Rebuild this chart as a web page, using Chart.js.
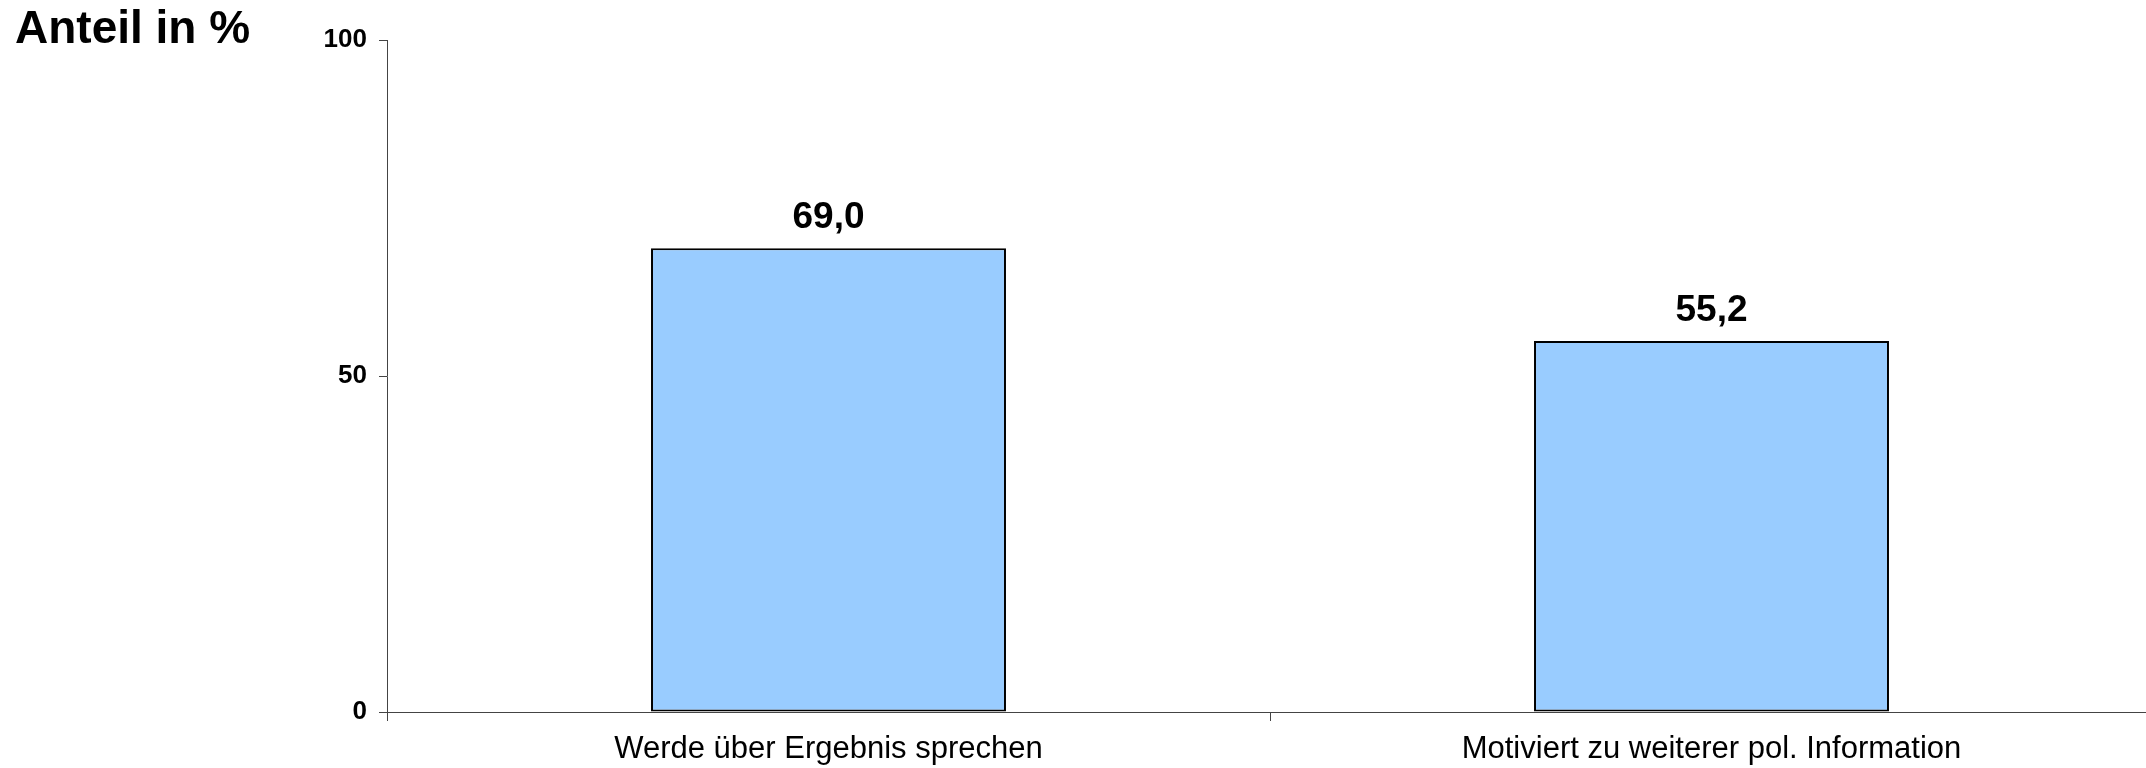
<!DOCTYPE html>
<html>
<head>
<meta charset="utf-8">
<script src="https://cdn.jsdelivr.net/npm/chart.js@4/dist/chart.umd.min.js"></script>
<style>
    html, body { margin: 0; padding: 0; background: #fff; }
</style>
</head>
<body>
<canvas id="chart" width="2146" height="768"></canvas>
<script>
const categories = ['Werde über Ergebnis sprechen', 'Motiviert zu weiterer pol. Information'];
const shares = [69.0, 55.2];
const yTicks = [0, 50, 100];
const yTitle = 'Anteil in %';

const fontFamily = '"Liberation Sans", Arial, Helvetica, sans-serif';

// the original x axis runs a few px past the right edge of the picture
const axisOverhang = {
    id: 'axisOverhang',
    afterLayout(chart) {
        const x = chart.scales.x;
        x.right = chart.width + 7;
        x.width = x.right - x.left;
        x.configure();
    },
};

// axis title in the top left corner
const titlePlugin = {
    id: 'cornerTitle',
    afterDraw(chart) {
        const ctx = chart.ctx;
        ctx.save();
        ctx.font = `bold 46px ${fontFamily}`;
        ctx.fillStyle = '#000';
        ctx.textAlign = 'left';
        ctx.textBaseline = 'alphabetic';
        ctx.fillText(yTitle, 15, 43);
        ctx.restore();
    },
};

// value labels above bars, german decimal comma
const valuePlugin = {
    id: 'barValues',
    afterDatasetsDraw(chart) {
        const ctx = chart.ctx;
        const meta = chart.getDatasetMeta(0);
        ctx.save();
        ctx.font = `bold 37px ${fontFamily}`;
        ctx.fillStyle = '#000';
        ctx.textAlign = 'center';
        ctx.textBaseline = 'alphabetic';
        meta.data.forEach((bar, i) => {
            const text = shares[i].toFixed(1).replace('.', ',');
            ctx.fillText(text, bar.x, bar.y - 20);
        });
        ctx.restore();
    },
};

new Chart(document.getElementById('chart'), {
    type: 'bar',
    data: {
        labels: categories,
        datasets: [
            {
                data: shares,
                backgroundColor: '#99ccff',
                borderColor: '#000',
                borderWidth: 2,
                borderSkipped: false,
                categoryPercentage: 1,
                barPercentage: 0.402,
            },
        ],
    },
    options: {
        responsive: false,
        animation: false,
        devicePixelRatio: 1,
        layout: { padding: { top: 40, right: 0, left: 0, bottom: 0 } },
        scales: {
            x: {
                grid: {
                    display: true,
                    offset: true,
                    drawOnChartArea: false,
                    drawTicks: true,
                    tickLength: 9,
                    color: '#444',
                },
                border: { display: true, color: '#444', width: 1 },
                ticks: {
                    color: '#000',
                    font: { family: fontFamily, size: 31 },
                    padding: 10,
                    maxRotation: 0,
                    autoSkip: false,
                },
                afterFit(scale) {
                    scale.height = 56;
                },
            },
            y: {
                min: 0,
                max: 100,
                afterBuildTicks(scale) {
                    scale.ticks = yTicks.map((v) => ({ value: v }));
                },
                grid: {
                    display: true,
                    drawOnChartArea: false,
                    drawTicks: true,
                    tickLength: 8,
                    color: '#444',
                },
                border: { display: true, color: '#444', width: 1 },
                ticks: {
                    color: '#000',
                    font: { family: fontFamily, size: 26, weight: 'bold' },
                    padding: 12,
                },
                afterFit(scale) {
                    scale.width = 387;
                },
            },
        },
        plugins: {
            legend: { display: false },
            tooltip: { enabled: false },
        },
    },
    plugins: [axisOverhang, titlePlugin, valuePlugin],
});
</script>
</body>
</html>
